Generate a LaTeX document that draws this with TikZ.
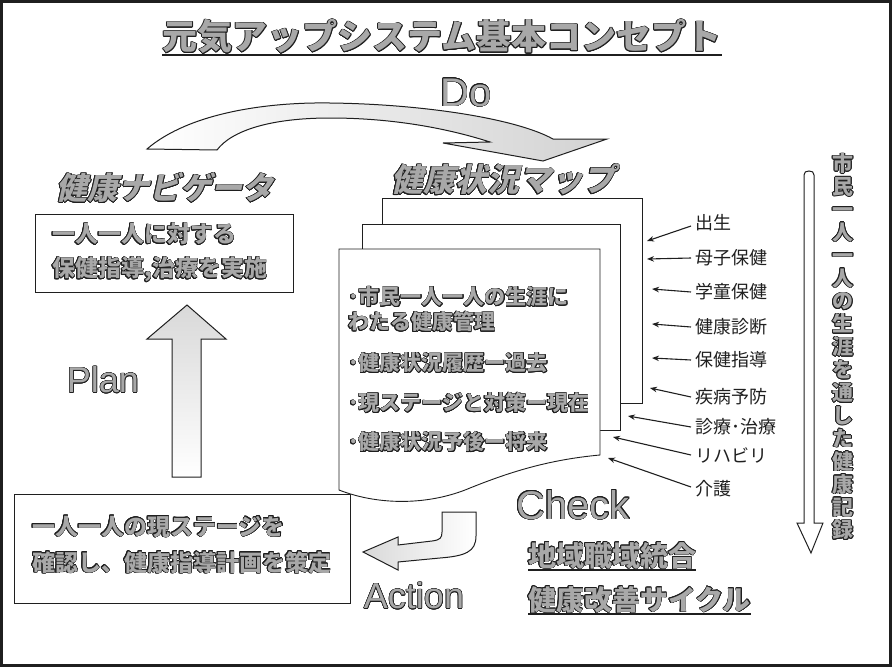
\documentclass[tikz,border=0pt]{standalone}
\usepackage{fontspec}
\setmainfont{Liberation Sans}
\newfontfamily\jp{Noto Sans CJK JP}
\newfontfamily\jpsl[FakeSlant=0.22]{Noto Sans CJK JP}
\usepackage{contour}
\contourlength{0.55pt}
\contournumber{20}
\usetikzlibrary{arrows.meta}
\definecolor{fillg}{gray}{0.66}
\definecolor{lineg}{gray}{0.12}
\newcommand{\outl}[1]{{\color{fillg}\contour{lineg}{#1}}}
\begin{document}
\begin{tikzpicture}[x=1pt,y=-1pt,
  box/.style={draw=lineg,line width=1.1pt,fill=white,inner sep=0pt},
  page/.style={draw=lineg,line width=0.9pt,fill=white},
  feed/.style={draw=lineg,line width=1.1pt,-{Stealth[length=7pt,width=5.5pt]}},
  lab/.style={anchor=west,inner sep=0pt,font=\jp\fontsize{18}{20}\selectfont,text=lineg},
  plain/.style={inner sep=0pt},
  blockarrow/.style={draw=lineg,line width=1pt},
]
\useasboundingbox (0,0) rectangle (892,667);
\draw[line width=3pt,lineg] (1.5,1.5) rectangle (890.5,665.5);

% title
\node[plain,font=\jp\bfseries\fontsize{35}{40}\selectfont] (title) at (442,37) {\outl{元気アップシステム基本コンセプト}};
\draw[line width=1.8pt,lineg] (title.south west) -- (title.south east);

% Do
\node[plain,font=\fontsize{40}{40}\selectfont] (do) at (466,93) {\outl{Do}};
\path[blockarrow,left color=white,right color=gray!35]
  (147,149) .. controls (190,112) and (270,102) .. (330,103)
  .. controls (420,104) and (515,118) .. (553,139)
  -- (607,139) -- (543,161) -- (443,143) -- (490,142)
  .. controls (440,126) and (385,118) .. (330,118)
  .. controls (272,118) and (232,130) .. (217,150) -- cycle;

% left side
\node[plain,font=\jpsl\bfseries\fontsize{31}{34}\selectfont] (navi) at (165,188) {\outl{健康ナビゲータ}};
\node[box,anchor=north west,minimum width=258pt,minimum height=78pt] (box1) at (35,214) {};
\node[plain,anchor=west,align=left,font=\jp\bfseries\fontsize{23}{34}\selectfont] (box1txt) at (52,253)
  {\outl{一人一人に対する}\\\outl{保健指導,治療を実施}};

\path[blockarrow,top color=gray!30,bottom color=white]
  (172,477) -- (172,339) -- (147,339) -- (187,305) -- (226,339) -- (201,339) -- (201,477) -- cycle;
\node[plain,font=\fontsize{36}{36}\selectfont] (plan) at (103,380) {\outl{Plan}};

\node[box,anchor=north west,minimum width=336pt,minimum height=109pt] (box2) at (14,494) {};
\node[plain,anchor=west,align=left,font=\jp\bfseries\fontsize{23}{36}\selectfont] (box2txt) at (32,545)
  {\outl{一人一人の現ステージを}\\\outl{確認し、健康指導計画を策定}};

% map pages
\node[plain,font=\jpsl\bfseries\fontsize{32}{34}\selectfont] (mapt) at (503,180) {\outl{健康状況マップ}};
\path[page] (382,198) rectangle (642,403);
\path[page] (362,224) rectangle (620,430);
\path[page] (339,249) -- (600,249) -- (600,455)
  .. controls (545,460) and (505,474) .. (470,488)
  .. controls (430,505) and (380,506) .. (339,490) -- cycle;
\node[plain,anchor=west,align=left,font=\jp\bfseries\fontsize{21}{25}\selectfont] (p1) at (348,309.5)
  {\outl{･市民一人一人の生涯に}\\\outl{わたる健康管理}};
\node[plain,anchor=west,font=\jp\bfseries\fontsize{21}{25}\selectfont] (p2) at (348,363) {\outl{･健康状況履歴ー過去}};
\node[plain,anchor=west,font=\jp\bfseries\fontsize{21}{25}\selectfont] (p3) at (348,403) {\outl{･現ステージと対策ー現在}};
\node[plain,anchor=west,font=\jp\bfseries\fontsize{21}{25}\selectfont] (p4) at (348,442) {\outl{･健康状況予後ー将来}};

% right labels
\node[lab] (l1) at (695,223) {出生};
\node[lab] (l2) at (695,258) {母子保健};
\node[lab] (l3) at (695,292) {学童保健};
\node[lab] (l4) at (695,327) {健康診断};
\node[lab] (l5) at (695,360) {保健指導};
\node[lab] (l6) at (695,397) {疾病予防};
\node[lab] (l7) at (695,427) {診療･治療};
\node[lab] (l8) at (695,455) {リハビリ};
\node[lab] (l9) at (695,489) {介護};
\coordinate (t1) at (647,241);
\coordinate (t2) at (647,259);
\coordinate (t3) at (652,289);
\coordinate (t4) at (652,324);
\coordinate (t5) at (652,358);
\coordinate (t6) at (650,388);
\coordinate (t7) at (628,416);
\coordinate (t8) at (613,437);
\coordinate (t9) at (608,458);
\draw[feed] ([xshift=-4pt,yshift=-3pt]l1.west) -- (t1);
\draw[feed] ([xshift=-4pt]l2.west) -- (t2);
\draw[feed] ([xshift=-4pt]l3.west) -- (t3);
\draw[feed] ([xshift=-4pt]l4.west) -- (t4);
\draw[feed] ([xshift=-4pt]l5.west) -- (t5);
\draw[feed] ([xshift=-4pt]l6.west) -- (t6);
\draw[feed] ([xshift=-4pt]l7.west) -- (t7);
\draw[feed] ([xshift=-4pt]l8.west) -- (t8);
\draw[feed] ([xshift=-4pt,yshift=2pt]l9.west) -- (t9);

% vertical arrow and text
\path[blockarrow,fill=white]
  (804,175) .. controls (804,172) and (806,171) .. (809,171) .. controls (812,171) and (814,172) .. (814,175)
  -- (814,523) -- (823,523) -- (811,553) -- (797,523) -- (804,523) -- cycle;
\node[plain,align=center,font=\jp\bfseries\fontsize{21}{22.9}\selectfont] (vert) at (843,347)
  {\outl{市}\\\outl{民}\\\outl{一}\\\outl{人}\\\outl{一}\\\outl{人}\\\outl{の}\\\outl{生}\\\outl{涯}\\\outl{を}\\\outl{通}\\\outl{し}\\\outl{た}\\\outl{健}\\\outl{康}\\\outl{記}\\\outl{録}};

% check / action
\node[plain,font=\fontsize{40}{40}\selectfont] (check) at (573,505) {\outl{Check}};
\path[blockarrow,left color=gray!30,right color=white]
  (442,512) -- (476,512) -- (476,536) .. controls (476,552) and (465,556) .. (440,558)
  -- (398,562) -- (398,570) -- (363,552) -- (398,537) -- (398,545) -- (432,541)
  .. controls (440,540) and (442,538) .. (442,532) -- cycle;
\node[plain,font=\fontsize{36}{36}\selectfont] (action) at (414,596) {\outl{Action}};

\node[plain,anchor=west,font=\jp\bfseries\fontsize{28}{30}\selectfont] (c1) at (528,556) {\outl{地域職域統合}};
\draw[line width=1.6pt,lineg] (c1.south west) -- (c1.south east);
\node[plain,anchor=west,font=\jp\bfseries\fontsize{28}{30}\selectfont] (c2) at (528,600) {\outl{健康改善サイクル}};
\draw[line width=1.6pt,lineg] (c2.south west) -- (c2.south east);
\end{tikzpicture}
\end{document}
